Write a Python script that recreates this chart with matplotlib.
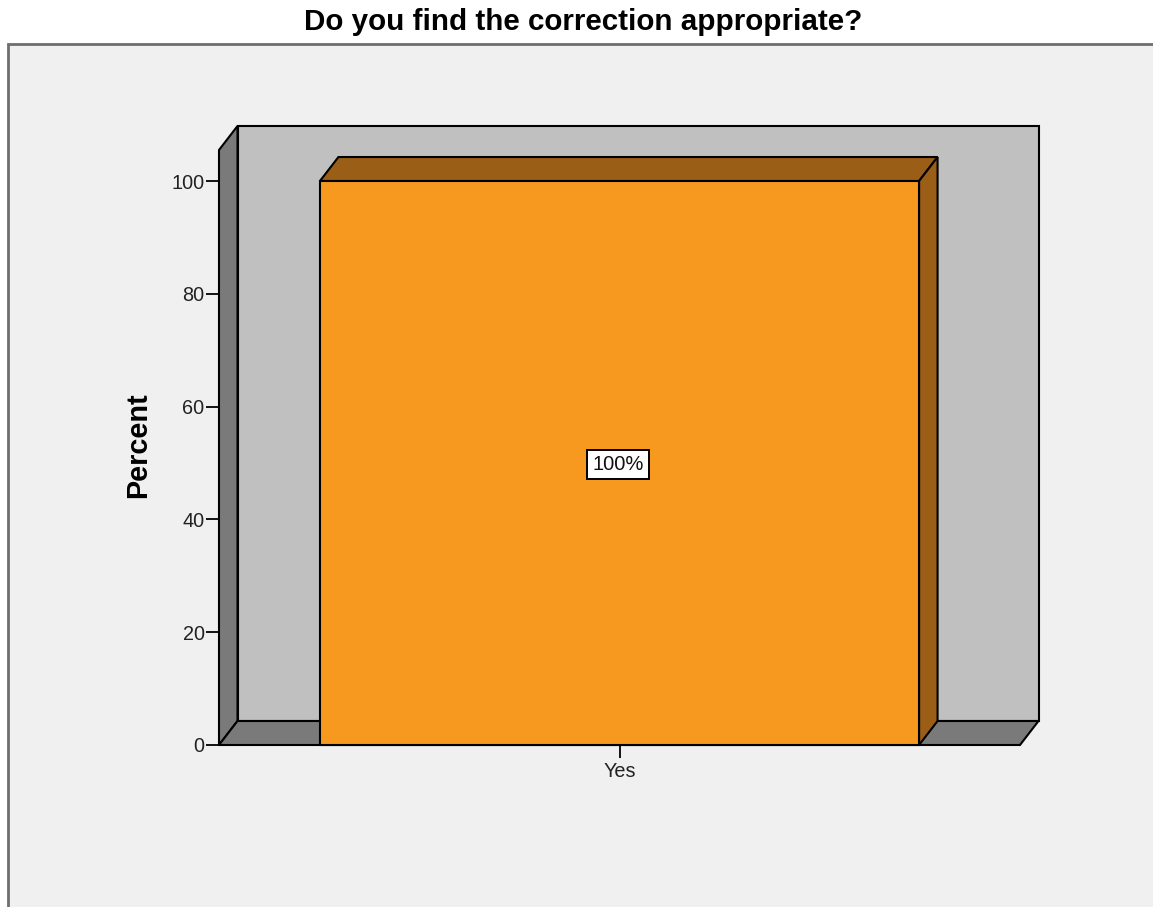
import matplotlib.pyplot as plt
from matplotlib.patches import Polygon, Rectangle

plt.rcParams['font.family'] = ['Liberation Sans', 'DejaVu Sans']

categories = ['Yes']
percents = [100]
labels = ['100%']

fig = plt.figure(figsize=(11.53, 9.07), dpi=100)
fig.patch.set_facecolor('white')

# outer chart frame (SPSS style)
frame = Rectangle((8 / 1153, -0.1), 1.2, (907 - 44) / 907 + 0.1,
                  transform=fig.transFigure, facecolor='#f0f0f0',
                  edgecolor='#6e6e6e', linewidth=2, zorder=-5)
fig.patches.append(frame)

fig.text(583 / 1153, 1 - 22 / 907, 'Do you find the correction appropriate?',
         ha='center', va='center', fontsize=21.3, fontweight='bold')

ax = fig.add_axes([219 / 1153, (907 - 745) / 907, 801 / 1153, 595 / 907])
ax.patch.set_visible(False)
ymax = 105.5
ax.set_xlim(-0.5, 0.5)
ax.set_ylim(0, ymax)
for s in ax.spines.values():
    s.set_visible(False)

# 3d depth, pixels -> data units
ddx = 18.5 / 801 * 1.0
ddy = 24 / 595 * ymax

edge = dict(edgecolor='black', linewidth=1.5, clip_on=False, joinstyle='miter')

# walls
ax.add_patch(Polygon([(-0.5 + ddx, ddy), (0.5 + ddx, ddy), (0.5 + ddx, ymax + ddy),
                      (-0.5 + ddx, ymax + ddy)], facecolor='#c0c0c0', zorder=1, **edge))
ax.add_patch(Polygon([(-0.5, 0), (-0.5, ymax), (-0.5 + ddx, ymax + ddy),
                      (-0.5 + ddx, ddy)], facecolor='#7a7a7a', zorder=2, **edge))
ax.add_patch(Polygon([(-0.5, 0), (0.5, 0), (0.5 + ddx, ddy), (-0.5 + ddx, ddy)],
                     facecolor='#7a7a7a', zorder=2, **edge))

# bars
width = 0.748
bars = ax.bar(range(len(categories)), percents, width=width, color='#f7991f',
              edgecolor='black', linewidth=1.5, zorder=4, clip_on=False)
for b, v in zip(bars, percents):
    x0 = b.get_x()
    x1 = x0 + b.get_width()
    ax.add_patch(Polygon([(x0, v), (x1, v), (x1 + ddx, v + ddy), (x0 + ddx, v + ddy)],
                         facecolor='#9a5e16', zorder=3, **edge))
    ax.add_patch(Polygon([(x1, 0), (x1, v), (x1 + ddx, v + ddy), (x1 + ddx, ddy)],
                         facecolor='#9a5e16', zorder=3, **edge))

for i, (v, lab) in enumerate(zip(percents, labels)):
    ax.text(i - 0.002, v / 2 - 0.3, lab, ha='center', va='center', fontsize=14.5,
            zorder=6, color='#111111',
            bbox=dict(boxstyle='square,pad=0.25', facecolor='white',
                      edgecolor='black', linewidth=1.4))

ax.set_yticks([0, 20, 40, 60, 80, 100])
ax.tick_params(axis='y', length=9.4, width=1.3, labelsize=14.3, pad=1,
               labelcolor='#222222')
ax.set_xticks(range(len(categories)))
ax.set_xticklabels(categories)
ax.tick_params(axis='x', length=9, width=1.3, labelsize=14.3, pad=3,
               labelcolor='#222222')

ax.set_ylabel('Percent', fontsize=20.8, fontweight='bold')
ax.yaxis.set_label_coords(-0.101, 0.504)
ax.yaxis.label.set_va('center')

fig.savefig('out.png', dpi=100)
